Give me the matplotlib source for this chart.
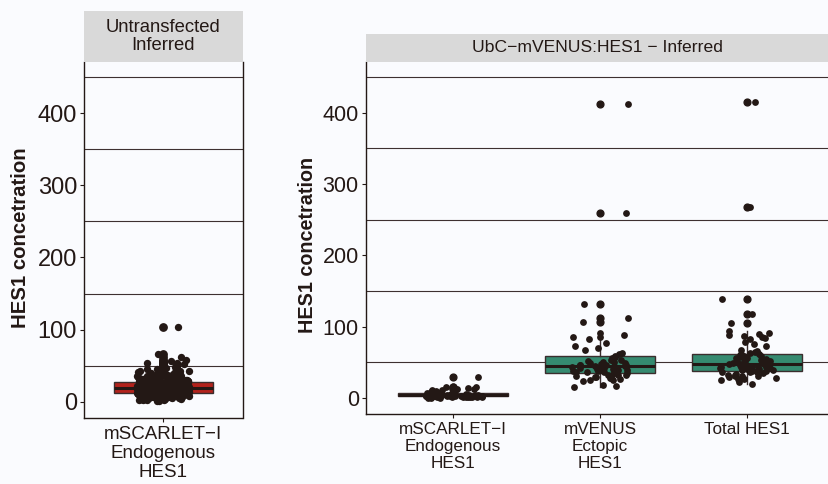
import matplotlib
matplotlib.use("Agg")
import matplotlib.pyplot as plt
import numpy as np

plt.rcParams["font.family"] = ["Liberation Sans", "DejaVu Sans"]

INK = "#231815"
BG = "#fafbfe"
STRIP = "#d9d9d9"

# Untransfected, inferred endogenous HES1 (mSCARLET-I)
untransfected = [
    12.4, 18.9, 25.3, 9.8, 31.2, 15.6, 22.1, 7.4, 28.8, 19.5, 11.3, 34.6, 16.2, 24.7, 8.9, 20.3, 13.7, 29.4, 6.2, 17.8,
    26.1, 10.5, 21.6, 33.1, 14.2, 19.1, 8.3, 27.5, 12.9, 23.4, 5.6, 30.2, 17.3, 10.1, 25.8, 15.1, 20.8, 35.4, 11.8, 18.2,
    9.2, 28.1, 14.8, 22.7, 6.9, 31.9, 16.7, 12.1, 26.6, 19.9, 7.8, 24.1, 13.3, 29.9, 10.8, 21.2, 15.9, 33.7, 8.6, 18.5,
    23.8, 11.1, 27.2, 14.5, 20.1, 5.1, 32.4, 16.9, 9.5, 25.1, 13.9, 19.3, 28.5, 7.1, 22.4, 12.6, 30.8, 17.1, 10.3, 24.9,
    15.3, 21.9, 8.1, 26.9, 18.7, 11.6, 36.8, 14.1, 23.1, 9.9, 29.1, 16.4, 20.5, 6.5, 27.9, 12.2, 19.7, 31.5, 10.6, 17.6,
    25.5, 13.1, 22.9, 7.6, 28.3, 15.8, 11.9, 34.1, 18.1, 24.3, 9.1, 20.9, 14.6, 30.4, 12.8, 26.3, 16.1, 8.4, 21.4, 38.2,
    13.5, 19.4, 27.1, 10.2, 23.6, 17.4, 6.8, 29.6, 14.9, 21.1, 11.4, 32.9, 18.4, 9.4, 25.6, 15.5, 20.2, 40.3, 12.3, 26.8,
    16.8, 7.3, 22.2, 30.1, 13.8, 19.8, 10.9, 27.7, 14.3, 24.5, 8.8, 21.7, 17.9, 33.4, 11.7, 28.6, 15.2, 20.6, 9.7, 42.1,
    14.7, 22.6, 9.3, 30.7, 17.2, 25.9, 11.5, 19.6, 6.1, 28.2, 13.4, 23.9, 16.6, 35.9, 10.4, 20.4, 8.2, 26.4, 15.7, 31.7,
    18.8, 12.7, 27.3, 7.9, 21.3, 14.4, 33.9, 10.7, 24.2, 17.7, 5.8, 29.3, 13.2, 22.5, 9.6, 38.7, 16.3, 26.2, 11.2, 19.2,
    23.3, 8.7, 28.9, 15.4, 20.7, 12.5, 32.1, 17.5, 6.6, 25.4, 14.1, 21.8, 10.2, 36.4, 18.6, 27.6, 9.0, 24.6, 13.6, 30.5,
    16.5, 22.8, 11.0, 29.7, 7.5, 19.0, 25.2, 13.0, 34.8, 17.0, 9.8, 23.0, 15.0, 28.0, 12.0, 41.2, 20.0, 8.0, 26.0, 14.0,
    21.0, 10.0, 27.0, 16.0, 31.0, 12.7, 18.3, 24.0, 6.3, 29.0, 15.4, 22.0, 9.4, 33.0, 19.0, 11.5, 25.0, 17.0, 37.0, 13.0,
    20.0, 28.4, 7.7, 23.5, 14.8, 30.0, 11.3, 18.0, 26.5, 9.2, 22.3, 16.9, 34.3, 12.4, 27.4, 19.5, 8.5, 24.4, 15.6, 43.3,
    5.3, 4.6, 3.8, 2.9, 44.2, 46.1, 39.8, 38.0, 50.5, 52.2, 1.9, 3.0, 4.8, 6.0, 41.0, 43.0, 58.3, 61.5,
    103.3, 66.0, 56.4, 54.1, 53.8, 49.3, 48.8, 44.5, 0.4, 1.1, 2.6, 3.4, 4.2, 45.7, 47.2, 37.5, 39.1, 36.2,
]

# UbC-mVENUS:HES1, inferred
endogenous = [
    30.0, 15.9, 4.1, 13.6, 2.2, 11.2, 5.4, 1.8, 3.6, 8.7, 2.9, 0.7, 6.1, 3.3, 13.1, 4.6, 1.5, 7.2, 2.5, 9.5,
    3.9, 0.4, 5.9, 2.1, 11.6, 4.4, 1.2, 3.1, 6.8, 2.7, 15.0, 0.9, 4.9, 3.5, 1.9, 7.9, 2.4, 5.2, 0.2, 3.8,
    12.4, 2.0, 4.3, 1.6, 6.4, 3.0, 0.5, 5.6, 2.8, 10.1, 3.4, 1.3, 4.7, 2.6, 3.7, 1.0,
]
ectopic = [
    411.7, 259.4, 131.8, 111.7, 106.0, 90.7, 86.0, 88.3, 85.0, 82.3, 76.7, 72.9, 67.3, 70.5, 63.5, 58.9,
    61.7, 57.9, 55.6, 53.3, 53.3, 50.9, 52.3, 46.3, 43.9, 46.3, 48.6, 46.3, 48.6, 46.3, 41.6, 39.3, 36.9,
    39.3, 36.9, 39.3, 36.9, 32.2, 32.2, 32.2, 32.2, 29.9, 29.0, 27.6, 26.2, 25.2, 27.6, 24.3, 18.2, 16.8,
    15.0, 25.2, 43.0, 34.5, 38.2, 44.8, 41.0, 47.5, 35.5, 31.0, 42.2, 50.0, 45.1, 37.4, 40.3,
]
total = [
    415.4, 267.8, 138.8, 117.8, 105.6, 94.4, 91.6, 88.3, 87.3, 86.0, 89.7, 82.3, 83.7, 78.9, 75.3, 72.9,
    65.9, 64.9, 61.7, 63.5, 67.3, 58.9, 60.3, 57.9, 53.3, 55.6, 50.9, 53.3, 47.7, 46.3, 47.7, 50.0, 40.7,
    41.6, 43.9, 43.9, 43.9, 36.0, 37.9, 36.0, 37.9, 31.3, 32.2, 32.2, 31.3, 28.5, 27.6, 26.6, 26.6, 22.0,
    19.2, 38.5, 42.0, 45.5, 48.8, 52.0, 40.0, 44.6, 36.8, 49.4, 56.7, 41.3, 46.9, 39.0, 54.4, 43.2, 47.0,
    35.2, 51.5, 58.0, 44.0, 29.5, 33.8, 61.0, 49.9, 24.8, 53.6, 37.2, 59.5, 42.7, 30.6,
]

left_labels = ["mSCARLET\u2212I\nEndogenous\nHES1"]
right_labels = ["mSCARLET\u2212I\nEndogenous\nHES1", "mVENUS\nEctopic\nHES1", "Total HES1"]
left_title = "Untransfected\nInferred"
right_title = "UbC\u2212mVENUS:HES1 \u2212 Inferred"
ylabel = "HES1 concetration"

W, H = 829, 484
fig = plt.figure(figsize=(W / 100, H / 100), dpi=100, facecolor=BG)

rng = np.random.default_rng(7)


def box_panel(ax, groups, colors, labels, tick_size, ytick_size, dot):
    ax.set_facecolor(BG)
    for y in [50, 150, 250, 350, 450]:
        ax.axhline(y, color="#3d3030", lw=0.8, zorder=0)
    pos = np.arange(1, len(groups) + 1)
    bp = ax.boxplot(groups, positions=pos, widths=0.75, patch_artist=True, showcaps=False,
                    whiskerprops=dict(color="#3a2d2d", lw=1.0),
                    medianprops=dict(color=INK, lw=2.2),
                    flierprops=dict(marker="o", markersize=np.sqrt(dot), markerfacecolor=INK,
                                    markeredgecolor=INK, lw=0),
                    zorder=2)
    for patch, c in zip(bp["boxes"], colors):
        patch.set_facecolor(c)
        patch.set_edgecolor("#3a2d2d")
        patch.set_linewidth(1.0)
    for p, vals in zip(pos, groups):
        xs = p + rng.uniform(-0.2, 0.2, len(vals))
        ax.scatter(xs, vals, s=dot, color=INK, lw=0, zorder=3)
    ax.set_ylim(-22.5, 471)
    ax.set_yticks([0, 100, 200, 300, 400])
    ax.set_xticks(pos)
    ax.set_xticklabels(labels, fontsize=tick_size, color=INK, linespacing=1.15)
    ax.tick_params(axis="y", labelsize=ytick_size, labelcolor=INK, color=INK, length=3, width=0.8, pad=2)
    ax.tick_params(axis="x", color=INK, length=3, width=0.8, pad=3)
    for s in ["left", "bottom", "right"]:
        ax.spines[s].set_color(INK)
        ax.spines[s].set_linewidth(1.0)
    ax.spines["top"].set_visible(False)


# left panel
ax1 = fig.add_axes([84 / W, 1 - 418 / H, 158.5 / W, 356 / H])
box_panel(ax1, [untransfected], ["#b2221c"], left_labels, 13.5, 17, 28)
ax1.set_xlim(0.4, 1.6)
s1 = fig.add_axes([84 / W, 1 - 62 / H, 158.5 / W, 51 / H])
s1.set_facecolor(STRIP)
s1.set_xticks([])
s1.set_yticks([])
for sp in s1.spines.values():
    sp.set_visible(False)
s1.text(0.5, 0.5, left_title, ha="center", va="center", fontsize=13.3, color=INK, linespacing=1.1)

# right panel
ax2 = fig.add_axes([365.7 / W, 1 - 414 / H, (W - 365.7) / W, 352 / H])
box_panel(ax2, [endogenous, ectopic, total], ["#358a70", "#358a70", "#358a70"], right_labels, 12.3, 15.5, 24)
ax2.set_xlim(0.406, 3.558)
ax2.spines["right"].set_visible(False)
s2 = fig.add_axes([365.7 / W, 1 - 62 / H, (W - 365.7) / W, 28 / H])
s2.set_facecolor(STRIP)
s2.set_xticks([])
s2.set_yticks([])
for sp in s2.spines.values():
    sp.set_visible(False)
s2.text(0.5, 0.5, right_title, ha="center", va="center", fontsize=12.6, color=INK)

fig.text(21 / W, 1 - 237.5 / H, ylabel, rotation=90, ha="center", va="center",
         fontsize=14.7, fontweight="bold", color=INK)
fig.text(308 / W, 1 - 245 / H, ylabel, rotation=90, ha="center", va="center",
         fontsize=14.2, fontweight="bold", color=INK)

fig.savefig("out.png", dpi=100, facecolor=BG)
